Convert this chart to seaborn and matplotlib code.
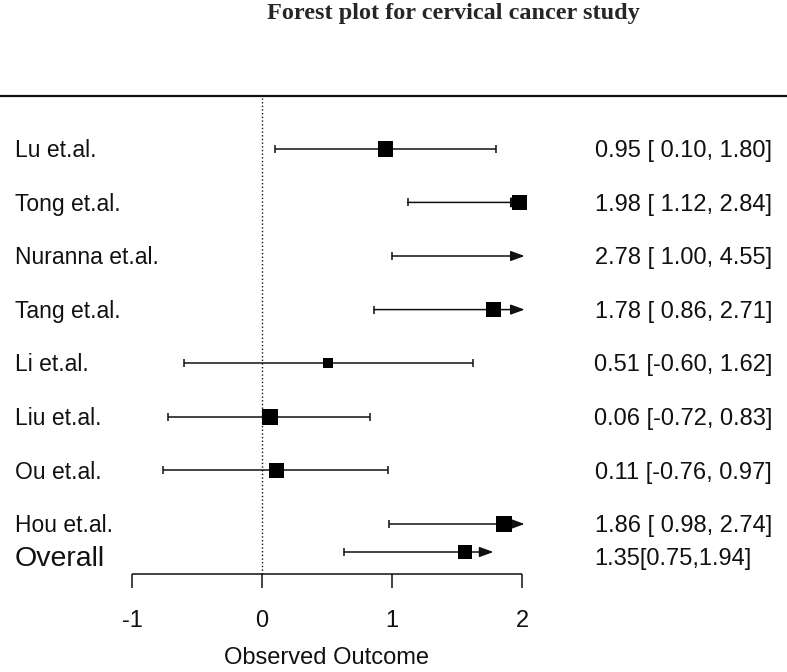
import pandas as pd
import seaborn as sns
import matplotlib.pyplot as plt

# study data
studies = ['Lu et.al.', 'Tong et.al.', 'Nuranna et.al.', 'Tang et.al.',
           'Li et.al.', 'Liu et.al.', 'Ou et.al.', 'Hou et.al.']
est = [0.95, 1.98, 2.78, 1.78, 0.51, 0.06, 0.11, 1.86]
lo = [0.10, 1.12, 1.00, 0.86, -0.60, -0.72, -0.76, 0.98]
hi = [1.80, 2.84, 4.55, 2.71, 1.62, 0.83, 0.97, 2.74]
weight = [15.5, 14.5, 9, 14.5, 10, 16.5, 15.5, 15.5]
ci_text = ['0.95 [ 0.10, 1.80]', '1.98 [ 1.12, 2.84]', '2.78 [ 1.00, 4.55]',
           '1.78 [ 0.86, 2.71]', '0.51 [-0.60, 1.62]', '0.06 [-0.72, 0.83]',
           '0.11 [-0.76, 0.97]', '1.86 [ 0.98, 2.74]']

# overall row as drawn in the picture
overall_label = 'Overall'
overall_est = 1.56
overall_lo = 0.63
overall_hi = 1.78
overall_weight = 13.5
overall_text = '1.35[0.75,1.94]'

ticks = [-1, 0, 1, 2]
xlabel = 'Observed Outcome'
title = 'Forest plot for cervical cancer study'

sns.set_style('white')
plt.rcParams['font.family'] = ['Liberation Sans', 'DejaVu Sans']

fig = plt.figure(figsize=(7.87, 6.72), dpi=100)
ax = fig.add_axes([0, 0, 1, 1])

# layout: x pixel = 262 + 130*x, row spacing ~53.6 px
step = 53.6
clip = 2.02
rows = list(range(len(studies), 0, -1))
overall_y = 1 - 28 / step
axis_y = 1 - 50 / step
top_y = 1 + 428 / step
cap = 4 / step
lw = 1.1
ink = '#111111'
head = '-|>,head_length=0.6,head_width=0.22'

df = pd.DataFrame({'study': studies, 'est': est, 'lo': lo, 'hi': hi,
                   'w': weight, 'y': rows})

# confidence intervals
for _, r in df.iterrows():
    ax.vlines(r['lo'], r['y'] - cap, r['y'] + cap, color=ink, lw=lw)
    if r['hi'] > clip:
        ax.annotate('', xy=(clip, r['y']), xytext=(r['lo'], r['y']),
                    arrowprops=dict(arrowstyle=head, color=ink, lw=lw,
                                    mutation_scale=14, shrinkA=0, shrinkB=0))
    else:
        ax.hlines(r['y'], r['lo'], r['hi'], color=ink, lw=lw)
        ax.vlines(r['hi'], r['y'] - cap, r['y'] + cap, color=ink, lw=lw)

# overall interval
ax.vlines(overall_lo, overall_y - cap, overall_y + cap, color=ink, lw=lw)
ax.annotate('', xy=(overall_hi, overall_y), xytext=(overall_lo, overall_y),
            arrowprops=dict(arrowstyle=head, color=ink, lw=lw,
                            mutation_scale=14, shrinkA=0, shrinkB=0))

# squares sized by weight
shown = df[df['est'] <= clip]
size_map = {w: (0.72 * w) ** 2 for w in weight + [overall_weight]}
sns.scatterplot(data=shown, x='est', y='y', size='w', sizes=size_map,
                marker='s', color='black', linewidth=0, legend=False, ax=ax,
                zorder=5)
ax.scatter([overall_est], [overall_y], s=size_map[overall_weight],
           marker='s', color='black', linewidth=0, zorder=5)

# reference line, top rule, x axis
ax.vlines(0, axis_y, top_y - 2 / step, color=ink, lw=1, linestyles=':')
ax.axhline(top_y, color=ink, lw=1.6)
ax.hlines(axis_y, ticks[0], ticks[-1], color=ink, lw=lw)
for t in ticks:
    ax.vlines(t, axis_y - 14 / step, axis_y, color=ink, lw=lw)
    ax.text(t, 1 - 97 / step, str(t), ha='center', va='center', fontsize=17,
            color=ink)
ax.text(0.5, 1 - 134 / step, xlabel, ha='center', va='center', fontsize=17,
        color=ink)

# text columns (baseline placed so the cap height is centred on the row)
tr = ax.get_yaxis_transform()
half_cap = 8.2 / step
for s, t, y in zip(studies, ci_text, rows):
    ax.text(15 / 787, y - half_cap, s, transform=tr, ha='left',
            va='baseline', fontsize=16.5, color=ink)
    ax.text(772 / 787, y - half_cap, t, transform=tr, ha='right',
            va='baseline', fontsize=17, color=ink)
ax.text(15 / 787, overall_y - 14.5 / step, overall_label, transform=tr,
        ha='left', va='baseline', fontsize=20.5, color=ink)
ax.text(752 / 787, overall_y - 13.5 / step, overall_text, transform=tr,
        ha='right', va='baseline', fontsize=17, color=ink)

fig.text(453 / 787, 1 - 13 / 672, title, ha='center', va='center',
         fontsize=17.5, fontweight='bold', family='Liberation Serif')

ax.set_xlim(-262 / 130, (787 - 262) / 130)
ax.set_ylim(1 - (672 - 524) / step, 1 + 524 / step)
ax.axis('off')

fig.savefig('out.png', dpi=100)
